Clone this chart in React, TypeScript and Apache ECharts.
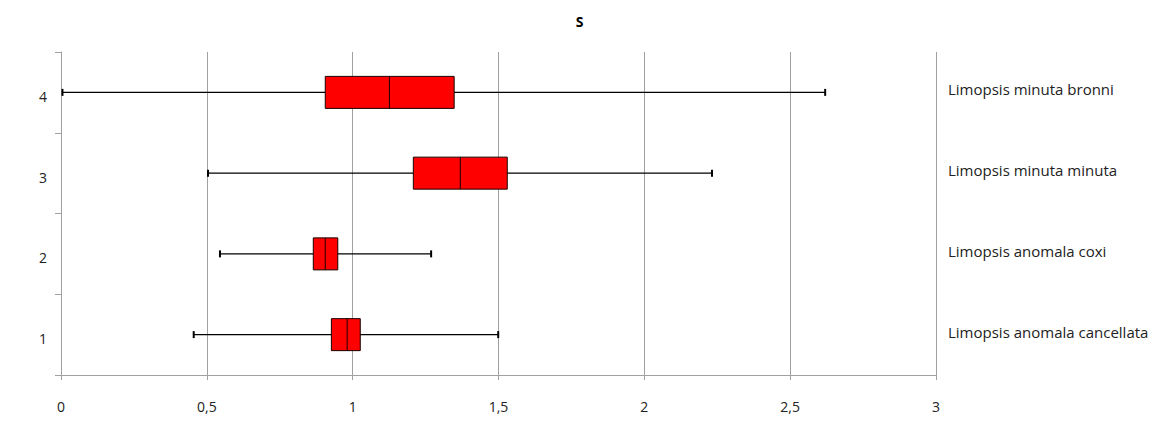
import React, { useEffect, useRef } from "react";
import * as echarts from "echarts";

const categories = ["1", "2", "3", "4"];
const speciesNames = [
  "Limopsis anomala cancellata",
  "Limopsis anomala coxi",
  "Limopsis minuta minuta",
  "Limopsis minuta bronni",
];
// [min, q1, median, q3, max]
const lowValues = [0.455, 0.545, 0.504, 0.005];
const q1Values = [0.927, 0.865, 1.208, 0.906];
const medianValues = [0.981, 0.906, 1.369, 1.126];
const q3Values = [1.026, 0.949, 1.53, 1.348];
const highValues = [1.499, 1.269, 2.232, 2.62];
const xTicks = [0, 0.5, 1, 1.5, 2, 2.5, 3];

export default function App() {
  const ref = useRef<HTMLDivElement>(null);
  useEffect(() => {
    document.body.style.margin = "0";
    const chart = echarts.init(ref.current!, null, { renderer: "svg" });
    const data = categories.map((c, i) => [
      i,
      lowValues[i],
      q1Values[i],
      medianValues[i],
      q3Values[i],
      highValues[i],
    ]);
    const font = "'Open Sans', 'Noto Sans', sans-serif";
    chart.setOption({
      animation: false,
      title: {
        text: "S",
        left: "center",
        top: 9,
        textStyle: { fontSize: 14, fontWeight: "bold", color: "#000", fontFamily: font },
      },
      grid: { left: 61, right: 223, top: 52, bottom: 66 },
      xAxis: {
        type: "value",
        min: xTicks[0],
        max: xTicks[xTicks.length - 1],
        interval: 0.5,
        axisLine: { show: true, lineStyle: { color: "#a0a0a0", width: 1 } },
        axisTick: { show: true, length: 5, lineStyle: { color: "#a0a0a0" } },
        splitLine: { show: true, lineStyle: { color: "#a0a0a0", width: 1 } },
        axisLabel: {
          margin: 24,
          fontSize: 14,
          color: "#222",
          fontFamily: font,
          formatter: (v: number) => String(v).replace(".", ","),
        },
      },
      yAxis: [
        {
          type: "category",
          data: categories,
          boundaryGap: true,
          axisLine: { show: true, lineStyle: { color: "#a0a0a0", width: 1 } },
          axisTick: { show: true, length: 6, lineStyle: { color: "#a0a0a0" } },
          splitLine: { show: false },
          axisLabel: {
            margin: 14,
            fontSize: 14,
            color: "#222",
            fontFamily: font,
            verticalAlign: "top",
            lineHeight: 8,
          },
        },
        {
          type: "category",
          data: speciesNames,
          position: "right",
          boundaryGap: true,
          axisLine: { show: false },
          axisTick: { show: false },
          splitLine: { show: false },
          axisLabel: {
            margin: 12,
            fontSize: 15,
            color: "#222",
            fontFamily: font,
            align: "left",
            verticalAlign: "bottom",
            lineHeight: 6,
          },
        },
      ],
      series: [
        {
          type: "custom",
          yAxisIndex: 0,
          encode: { y: 0, x: [1, 2, 3, 4, 5] },
          data,
          renderItem: (params: any, api: any) => {
            const cat = api.value(0);
            const low = api.coord([api.value(1), cat]);
            const q1 = api.coord([api.value(2), cat]);
            const med = api.coord([api.value(3), cat]);
            const q3 = api.coord([api.value(4), cat]);
            const high = api.coord([api.value(5), cat]);
            const y = low[1];
            const h = 32;
            const cap = 3.5;
            const lineStyle = { stroke: "#000", lineWidth: 1.3 };
            return {
              type: "group",
              children: [
                { type: "line", shape: { x1: low[0], y1: y, x2: high[0], y2: y }, style: lineStyle },
                { type: "line", shape: { x1: low[0], y1: y - cap, x2: low[0], y2: y + cap }, style: { stroke: "#000", lineWidth: 2 } },
                { type: "line", shape: { x1: high[0], y1: y - cap, x2: high[0], y2: y + cap }, style: { stroke: "#000", lineWidth: 2 } },
                {
                  type: "rect",
                  shape: { x: q1[0], y: y - h / 2, width: q3[0] - q1[0], height: h },
                  style: { fill: "#ff0000", stroke: "#1a0000", lineWidth: 1 },
                },
                { type: "line", shape: { x1: med[0], y1: y - h / 2, x2: med[0], y2: y + h / 2 }, style: { stroke: "#1a0000", lineWidth: 1 } },
              ],
            };
          },
        },
      ],
    });
    return () => chart.dispose();
  }, []);
  return <div ref={ref} style={{ width: 1159, height: 441 }} />;
}
